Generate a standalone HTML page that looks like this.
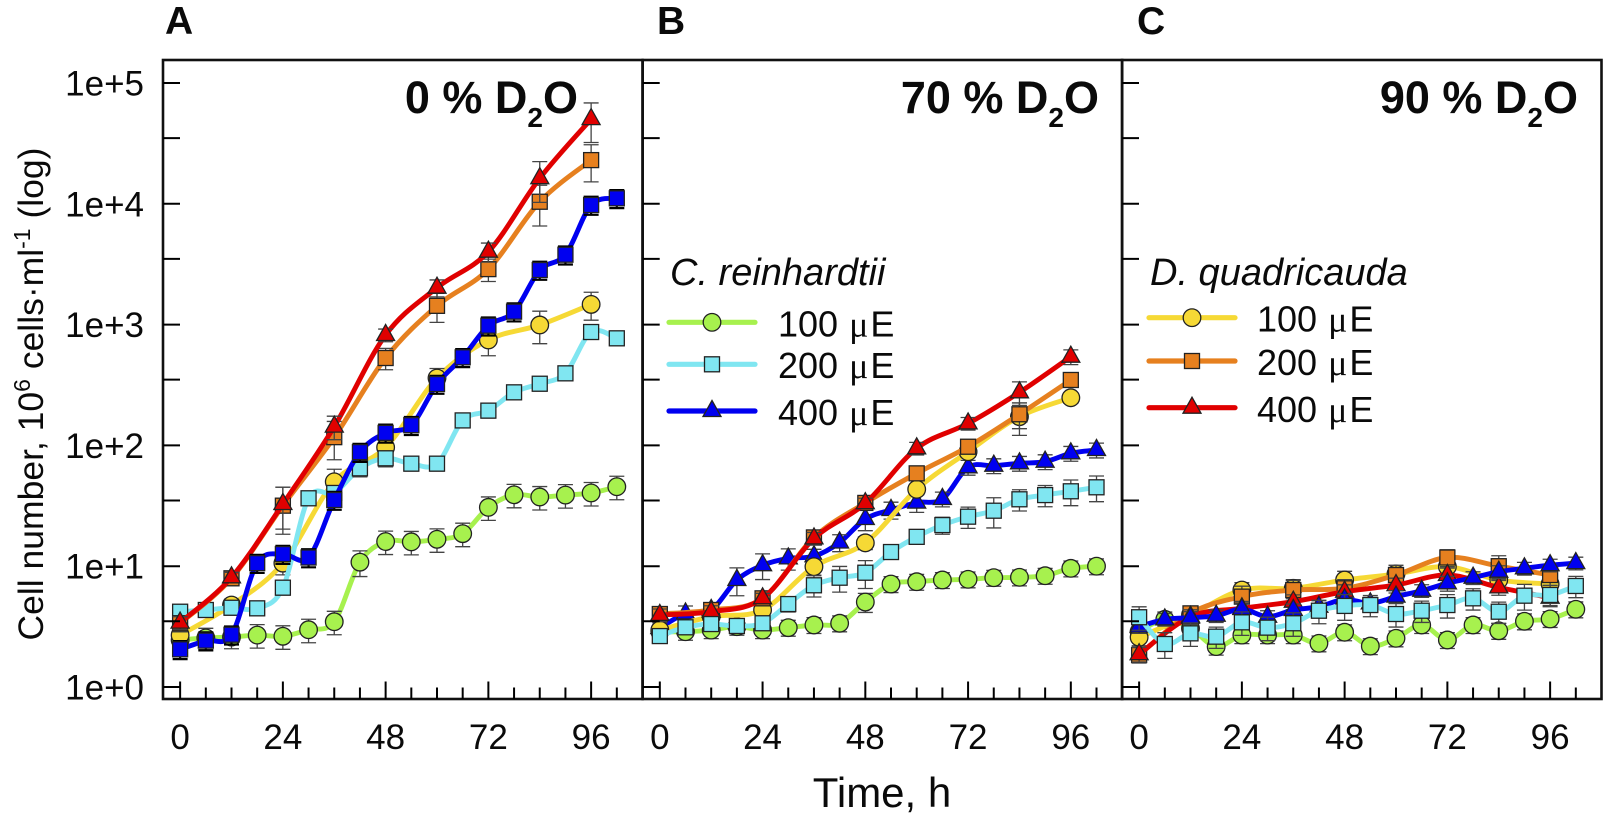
<!DOCTYPE html>
<html lang="en">
<head>
<meta charset="utf-8">
<title>Cell number vs time at different D2O concentrations</title>
<style>
html,body{margin:0;padding:0;background:#fff;width:1606px;height:821px;overflow:hidden}
svg{display:block}
text{font-family:"Liberation Sans",Arial,sans-serif;fill:#0a0a0a}
</style>
</head>
<body>
<svg id="chart" xmlns="http://www.w3.org/2000/svg" width="1606" height="821" viewBox="0 0 1606 821">
  <rect x="0" y="0" width="1606" height="821" fill="#fff"/>
  <text x="165" y="34" font-size="39" font-weight="700">A</text>
  <text x="657" y="34" font-size="39" font-weight="700">B</text>
  <text x="1137" y="34" font-size="39" font-weight="700">C</text>
  <g id="plots"></g>
  <text transform="translate(43,394) rotate(-90)" text-anchor="middle" font-size="35.5">Cell number, 10<tspan font-size="23" dy="-13">6</tspan><tspan dy="13"> cells·ml</tspan><tspan font-size="23" dy="-13">-1</tspan><tspan dy="13"> (log)</tspan></text>
  <text x="882" y="807" text-anchor="middle" font-size="42">Time, h</text>
  <text x="578" y="113" text-anchor="end" font-size="45" font-weight="700">0 % D<tspan font-size="28" dy="14">2</tspan><tspan dy="-14">O</tspan></text>
  <text x="1099" y="113" text-anchor="end" font-size="45" font-weight="700">70 % D<tspan font-size="28" dy="14">2</tspan><tspan dy="-14">O</tspan></text>
  <text x="1578" y="113" text-anchor="end" font-size="45" font-weight="700">90 % D<tspan font-size="28" dy="14">2</tspan><tspan dy="-14">O</tspan></text>
  <text x="670" y="285" font-size="38" font-style="italic">C. reinhardtii</text>
  <text x="1150" y="285" font-size="38" font-style="italic">D. quadricauda</text>
  <g id="legends"></g>
</svg>
<script>
// ---------- chart data (cell number, 10^6 cells/ml) ----------
const hours6 = [0,6,12,18,24,30,36,42,48,54,60,66,72,78,84,90,96,102];
const hours12 = [0,12,24,36,48,60,72,84,96];
const xTickHours = [0,6,12,18,24,30,36,42,48,54,60,66,72,78,84,90,96,102];
const xTickLabels = [0,24,48,72,96];
const yMajorTicks = [1,10,100,1000,10000,100000];
const yMinorTicks = [3.5,35,350,3500,35000];
const yTickLabels = ["1e+0","1e+1","1e+2","1e+3","1e+4","1e+5"];
const legendDoses = ["100","200","400"];

// Panel A, 0 % D2O
const aGreen = [2.45,2.55,2.59,2.69,2.63,2.98,3.47,10.8,16,15.9,16.7,18.6,30.7,39,37.4,38.8,40.4,45.5];
const aCyan = [4.2,4.34,4.53,4.48,6.64,36.5,40.4,64.6,78.2,70.6,70.6,161,194,275,324,395,868,770];
const aBlue = [2.05,2.42,2.71,10.6,12.6,11.8,35.3,88,127,147,322,536,979,1280,2830,3790,9770,11100];
const aYellow = [2.69,4.77,10.6,50,96.4,361,746,993,1470];
const aOrange = [3.37,7.94,31.7,117,529,1430,2880,10400,23000];
const aRed = [3.41,8.09,32.7,143,820,2020,4010,16300,50300];
const aGreenErr = [.2,.2,.2,.22,.22,.22,.22,.24,.22,.22,.22,.22,.22,.22,.22,.22,.22,.22];
const aCyanErr = [.13,.13,.13,.13,.13,.13,.13,.15,.15,.13,.13,.13,.13,.13,.13,.13,.13,.13];
const aBlueErr = [.17,.17,.17,.17,.17,.17,.17,.17,.17,.17,.17,.17,.17,.17,.17,.17,.17,.17];
const aYellowErr = [.15,.12,.2,.27,.2,.2,.26,.3,.26];
const aOrangeErr = [.15,.1,.42,.35,.2,.27,.21,.37,.34];
const aRedErr = [.12,.1,.38,.22,.12,.16,.18,.37,.36];

// Panel B, 70 % D2O
const bGreen = [2.87,2.87,2.96,3.16,2.96,3.1,3.26,3.37,5.05,7.12,7.44,7.69,7.79,8.03,8.09,8.34,9.6,10];
const bCyan = [2.64,3.12,3.32,3.2,3.37,4.86,6.95,8.03,8.83,13.1,17.5,21.9,25.7,28.8,35.8,38.8,41.7,45];
const bBlue = [3.08,4.07,4.34,7.69,10.2,11.6,12.1,15.7,24.6,29.2,33.6,36,65.9,67.9,71.1,73.3,86,91.6];
const bYellow = [2.96,3.82,4.34,9.91,15.6,43.3,88.7,173,248];
const bOrange = [4.02,4.34,5.42,17.3,33.4,58.7,97.5,181,348];
const bRed = [3.95,4.2,5.42,17,33.2,94.6,152,275,542];
const bGreenErr = [.15,.15,.15,.15,.15,.15,.15,.15,.18,.15,.15,.15,.15,.15,.15,.15,.15,.15];
const bCyanErr = [.12,.12,.12,.1,.12,.14,.2,.24,.26,.12,.12,.16,.2,.28,.2,.2,.24,.24];
const bBlueErr = [.15,.15,.15,.26,.24,.2,.14,.16,.2,.16,.17,.14,.14,.14,.14,.14,.14,.14];
const bYellowErr = [.15,.12,.12,.15,.12,.1,.1,.3,.1];
const bOrangeErr = [.12,.12,.12,.12,.1,.1,.1,.24,.1];
const bRedErr = [.12,.12,.1,.12,.1,.12,.12,.22,.14];

// Panel C, 90 % D2O
const cGreen = [2.87,3.63,3.06,2.16,2.69,2.69,2.69,2.3,2.84,2.18,2.53,3.26,2.45,3.26,2.92,3.5,3.66,4.4];
const cCyan = [3.78,2.27,2.78,2.61,3.43,3.1,3.37,4.28,4.69,4.77,4.02,4.28,4.77,5.42,4.2,5.7,5.78,6.86];
const cBlue = [3.16,3.63,3.75,3.89,4.42,3.82,4.34,4.62,5.32,4.93,5.6,6.27,7.22,8.03,9,9.6,10.2,10.6];
const cYellow = [2.58,3.95,6.35,6.56,7.69,8.62,9.91,7.69,7.12];
const cOrange = [1.84,4.07,5.6,6.35,6.56,8.45,11.8,10,8.45];
const cRed = [1.87,3.82,4.48,5.08,6.15,6.98,8.45,6.68,5.49];
const cGreenErr = [.15,.15,.15,.15,.15,.15,.15,.15,.15,.15,.15,.15,.15,.15,.15,.15,.15,.15];
const cCyanErr = [.22,.24,.22,.2,.22,.22,.22,.22,.24,.2,.22,.2,.22,.2,.2,.24,.2,.2];
const cBlueErr = [.12,.12,.12,.12,.12,.12,.12,.12,.12,.12,.12,.12,.14,.12,.12,.12,.12,.12];
const cYellowErr = [.15,.15,.15,.18,.18,.18,.15,.18,.15];
const cOrangeErr = [.14,.14,.22,.2,.18,.2,.16,.22,.18];
const cRedErr = [.14,.14,.14,.14,.14,.14,.14,.14,.14];

// ---------- style ----------
const GREEN = "#a7f14e", CYAN = "#80e6f1", BLUE = "#0000f0", YELLOW = "#f6d935", ORANGE = "#e6801f", RED = "#e00000";

const panels = [
  {id:"a", left:163, series:[
    {name:"chlamy-100",h:hours6,v:aGreen,e:aGreenErr,color:GREEN,shape:"circle"},
    {name:"desmo-100",h:hours12,v:aYellow,e:aYellowErr,color:YELLOW,shape:"circle"},
    {name:"chlamy-200",h:hours6,v:aCyan,e:aCyanErr,color:CYAN,shape:"square"},
    {name:"desmo-200",h:hours12,v:aOrange,e:aOrangeErr,color:ORANGE,shape:"square"},
    {name:"desmo-400",h:hours12,v:aRed,e:aRedErr,color:RED,shape:"triangle"},
    {name:"chlamy-400",h:hours6,v:aBlue,e:aBlueErr,color:BLUE,shape:"square",heavy:true}
  ]},
  {id:"b", left:642.7, series:[
    {name:"chlamy-100",h:hours6,v:bGreen,e:bGreenErr,color:GREEN,shape:"circle"},
    {name:"chlamy-400",h:hours6,v:bBlue,e:bBlueErr,color:BLUE,shape:"triangle"},
    {name:"desmo-100",h:hours12,v:bYellow,e:bYellowErr,color:YELLOW,shape:"circle"},
    {name:"desmo-200",h:hours12,v:bOrange,e:bOrangeErr,color:ORANGE,shape:"square"},
    {name:"desmo-400",h:hours12,v:bRed,e:bRedErr,color:RED,shape:"triangle"},
    {name:"chlamy-200",h:hours6,v:bCyan,e:bCyanErr,color:CYAN,shape:"square"}
  ]},
  {id:"c", left:1122, series:[
    {name:"chlamy-100",h:hours6,v:cGreen,e:cGreenErr,color:GREEN,shape:"circle"},
    {name:"desmo-100",h:hours12,v:cYellow,e:cYellowErr,color:YELLOW,shape:"circle"},
    {name:"desmo-200",h:hours12,v:cOrange,e:cOrangeErr,color:ORANGE,shape:"square"},
    {name:"desmo-400",h:hours12,v:cRed,e:cRedErr,color:RED,shape:"triangle"},
    {name:"chlamy-400",h:hours6,v:cBlue,e:cBlueErr,color:BLUE,shape:"triangle"},
    {name:"chlamy-200",h:hours6,v:cCyan,e:cCyanErr,color:CYAN,shape:"square"}
  ]}
];

const legendGroups = [
  {id:"c-reinhardtii", lineX:667, textX:778, lineY:[322.3,364.3,411], textY:[336.7,378,425],
   entries:[{color:GREEN,shape:"circle"},{color:CYAN,shape:"square"},{color:BLUE,shape:"triangle"}]},
  {id:"d-quadricauda", lineX:1147, textX:1257, lineY:[317.7,361,407.7], textY:[331.7,375,422],
   entries:[{color:YELLOW,shape:"circle"},{color:ORANGE,shape:"square"},{color:RED,shape:"triangle"}]}
];

// ---------- axes ----------
const SVGNS = "http://www.w3.org/2000/svg";
const PANEL_W = 479.5, PLOT_TOP = 60, PLOT_BOTTOM = 699, HOUR_MIN = -4, HOUR_SPAN = 112;
const Y_ZERO = 687, Y_DECADE = 120.8;
function xScale(left, hour){ return left + (hour - HOUR_MIN) * PANEL_W / HOUR_SPAN; }
function yScale(value){ return Y_ZERO - Y_DECADE * Math.log10(value); }

function make(tag, attrs, parent){
  const n = document.createElementNS(SVGNS, tag);
  for (const k in attrs) n.setAttribute(k, attrs[k]);
  parent.appendChild(n);
  return n;
}

function smoothPath(pts){
  let d = "M" + pts[0][0].toFixed(1) + " " + pts[0][1].toFixed(1);
  for (let i = 0; i < pts.length - 1; i++){
    const p0 = pts[Math.max(i-1,0)], p1 = pts[i], p2 = pts[i+1], p3 = pts[Math.min(i+2,pts.length-1)];
    const c1x = p1[0] + (p2[0]-p0[0])/6, c1y = p1[1] + (p2[1]-p0[1])/6;
    const c2x = p2[0] - (p3[0]-p1[0])/6, c2y = p2[1] - (p3[1]-p1[1])/6;
    d += "C" + c1x.toFixed(1) + " " + c1y.toFixed(1) + " " + c2x.toFixed(1) + " " + c2y.toFixed(1) + " " + p2[0].toFixed(1) + " " + p2[1].toFixed(1);
  }
  return d;
}

function drawMarker(parent, shape, x, y, color){
  const style = {fill:color, stroke:"#222", "stroke-width":1.3};
  let m;
  if (shape === "circle"){
    m = make("circle", Object.assign({cx:x, cy:y, r:8.8}, style), parent);
  } else if (shape === "square"){
    m = make("rect", Object.assign({x:x-7.5, y:y-7.5, width:15, height:15}, style), parent);
  } else {
    const pts = [[x,y-10.5],[x+9,y+5.5],[x-9,y+5.5]].map(p => p[0].toFixed(1)+","+p[1].toFixed(1)).join(" ");
    m = make("polygon", Object.assign({points:pts}, style), parent);
  }
  return m;
}

const plots = document.getElementById("plots");
panels.forEach(function(panel){
  const g = make("g", {}, plots);
  
  

  // series
  panel.series.forEach(function(s){
    const sg = make("g", {}, g);
    
    
    const pts = s.h.map(function(h, i){ return [xScale(panel.left, h), yScale(s.v[i])]; });
    const line = make("path", {d:smoothPath(pts), fill:"none", stroke:s.color, "stroke-width":4.9, "stroke-linecap":"round", "stroke-linejoin":"round"}, sg);
    
    
    pts.forEach(function(p, i){
      const up = yScale(s.v[i] * (1 + s.e[i]));
      const dn = yScale(s.v[i] * (1 - s.e[i]));
      const cw = s.heavy ? 2.2 : 1.3;
      const cc = s.heavy ? "#000" : "#444";
      const bar = make("path", {d:"M"+p[0]+" "+up+"V"+dn+"M"+(p[0]-7.5)+" "+up+"H"+(p[0]+7.5)+"M"+(p[0]-7.5)+" "+dn+"H"+(p[0]+7.5), fill:"none", stroke:cc, "stroke-width":cw}, sg);
      
      
      const mk = drawMarker(sg, s.shape, p[0], p[1], s.color);
      
      
    });
  });

  // frame
  const frame = make("rect", {x:panel.left, y:PLOT_TOP, width:PANEL_W, height:PLOT_BOTTOM-PLOT_TOP, fill:"none", stroke:"#111", "stroke-width":2.6}, g);
  
  

  // y ticks
  yMajorTicks.concat(yMinorTicks).forEach(function(v){
    const y = yScale(v);
    const t = make("line", {x1:panel.left, x2:panel.left+17, y1:y, y2:y, stroke:"#000", "stroke-width":2}, g);
    
    
  });

  // x ticks
  xTickHours.forEach(function(h){
    const x = xScale(panel.left, h);
    const major = xTickLabels.indexOf(h) >= 0;
    const t = make("line", {x1:x, x2:x, y1:major ? 681.5 : 687.5, y2:PLOT_BOTTOM, stroke:"#000", "stroke-width":2}, g);
    
    
  });

  // x labels
  xTickLabels.forEach(function(h){
    const t = make("text", {x:xScale(panel.left, h), y:749, "text-anchor":"middle", "font-size":35}, g);
    t.textContent = String(h);
    
    
  });
});

// y labels
yMajorTicks.forEach(function(v, i){
  const t = make("text", {x:144, y:yScale(v)+12.5, "text-anchor":"end", "font-size":35}, plots);
  t.textContent = yTickLabels[i];
  
  
});

// legends
const legendRoot = document.getElementById("legends");
legendGroups.forEach(function(group){
  const lg = make("g", {}, legendRoot);
  
  
  group.entries.forEach(function(entry, i){
    const eg = make("g", {}, lg);
    
    
    const y = group.lineY[i];
    make("line", {x1:group.lineX+2, x2:group.lineX+88, y1:y, y2:y, stroke:entry.color, "stroke-width":5.2, "stroke-linecap":"round"}, eg);
    drawMarker(eg, entry.shape, group.lineX+45, y, entry.color);
    const t = make("text", {x:group.textX, y:group.textY[i], "font-size":36}, eg);
    t.textContent = legendDoses[i] + " ";
    const mu = make("tspan", {"font-family":"Liberation Serif, serif", dx:1}, t);
    mu.textContent = "μ";
    const unit = make("tspan", {dx:2}, t);
    unit.textContent = "E";
  });
});
</script>
</body>
</html>
